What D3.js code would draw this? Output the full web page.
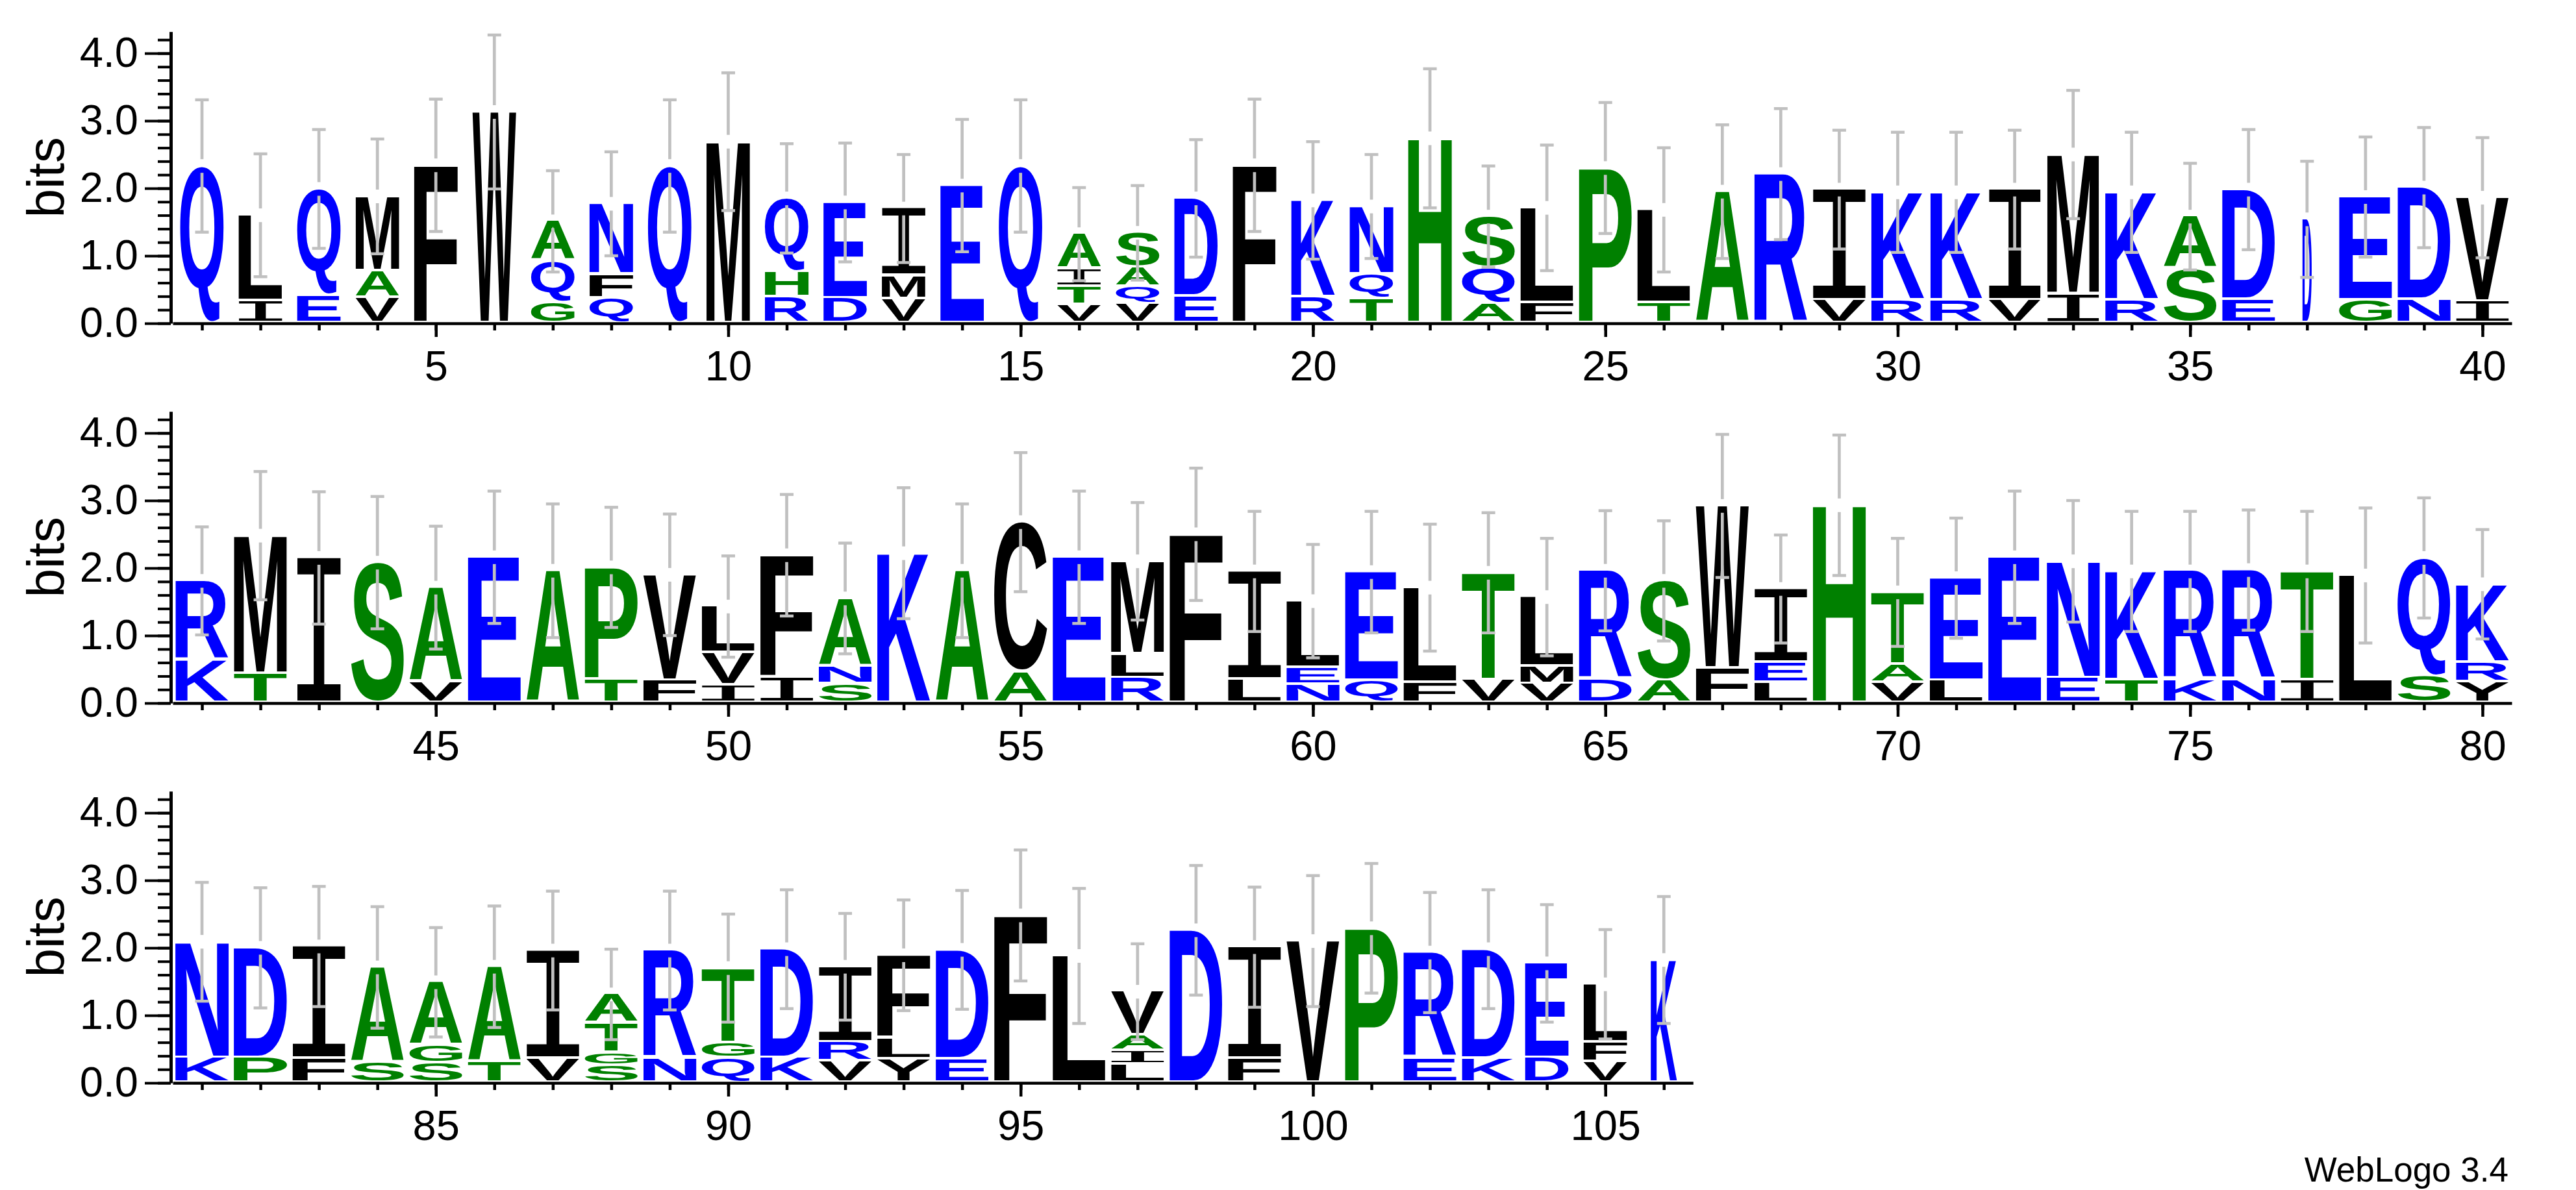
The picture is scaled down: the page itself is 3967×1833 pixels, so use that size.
<!DOCTYPE html>
<html>
<head>
<meta charset="utf-8">
<script src="https://cdn.jsdelivr.net/npm/d3@7"></script>
<style>
  body { margin: 0; background: #fff; }
  svg { display: block; }
</style>
</head>
<body>
<svg id="drawspace" width="3967" height="1833"></svg>
<script>
// letters of each stack, bottom to top
const stackLetters = [
  "Q", "IL", "EQ", "VAM", "F", "W", "GQA", "QFN", "Q", "M",
  "RHQ", "DE", "VMI", "E", "Q", "VTIA", "VQAS", "ED", "F", "RK",
  "TQN", "H", "AQS", "FL", "P", "TL", "A", "R", "VI", "RK",
  "RK", "VI", "IM", "RK", "SA", "ED", "D", "GE", "ND", "IV",
  "KR", "TM", "I", "S", "VA", "E", "A", "TP", "FV", "IVL",
  "IF", "SNA", "K", "A", "AC", "E", "RLM", "F", "LI", "NEL",
  "QE", "FL", "VT", "VML", "DR", "AS", "FW", "LEI", "H", "VAT",
  "LE", "E", "EN", "TK", "KR", "NR", "IT", "L", "SQ", "YRK",
  "KN", "PD", "FI", "SA", "SGA", "TA", "VI", "SGTA", "NR", "QGT",
  "KD", "VRI", "YLF", "ED", "F", "L", "LIAV", "D", "FI", "V",
  "P", "ER", "KD", "DE", "VFL", "K"
];

// bits of each letter, same order
const stackBits = [
  [2.33], [0.33, 1.27], [0.41, 1.58], [0.37, 0.40, 1.11], [2.34], [3.13], [0.30, 0.62, 0.59], [0.37, 0.35, 1.05], [2.33], [2.69],
  [0.38, 0.37, 1.10], [0.37, 1.42], [0.36, 0.34, 1.00], [2.04], [2.33], [0.27, 0.27, 0.26, 0.52], [0.28, 0.26, 0.28, 0.52], [0.39, 1.46], [2.34], [0.38, 1.44],
  [0.36, 0.36, 1.01], [2.74], [0.28, 0.54, 0.76], [0.30, 1.41], [2.30], [0.30, 1.38], [1.95], [2.21], [0.34, 1.64], [0.34, 1.60],
  [0.34, 1.60], [0.34, 1.64], [0.43, 2.07], [0.34, 1.60], [0.80, 0.78], [0.35, 1.63], [1.54], [0.34, 1.53], [0.35, 1.66], [0.32, 1.54],
  [0.63, 1.18], [0.43, 2.05], [2.15], [2.08], [0.31, 1.40], [2.16], [1.96], [0.35, 1.66], [0.33, 1.57], [0.26, 0.48, 0.69],
  [0.38, 1.81], [0.28, 0.26, 1.01], [2.22], [1.96], [0.46, 2.22], [2.16], [0.37, 0.35, 1.38], [2.50], [0.35, 1.60], [0.27, 0.25, 0.99],
  [0.33, 1.61], [0.30, 1.41], [0.34, 1.59], [0.28, 0.26, 1.03], [0.34, 1.62], [0.33, 1.48], [0.51, 2.41], [0.30, 0.30, 1.09], [2.93], [0.30, 0.27, 1.07],
  [0.33, 1.52], [2.16], [0.37, 1.73], [0.34, 1.61], [0.34, 1.61], [0.34, 1.63], [0.34, 1.61], [1.89], [0.39, 1.76], [0.31, 0.29, 1.16],
  [0.37, 1.72], [0.37, 1.63], [0.36, 1.66], [0.30, 1.41], [0.29, 0.26, 0.94], [0.31, 1.41], [0.36, 1.60], [0.25, 0.19, 0.44, 0.43], [0.36, 1.60], [0.36, 0.23, 1.11],
  [0.37, 1.61], [0.32, 0.28, 1.12], [0.35, 0.31, 1.23], [0.35, 1.62], [2.48], [1.88], [0.27, 0.20, 0.23, 0.65], [2.26], [0.36, 1.65], [2.10],
  [2.29], [0.36, 1.57], [0.36, 1.62], [0.37, 1.40], [0.31, 0.29, 0.86], [1.82]
];

// half length of each error bar, bits
const errorBits = [
  0.98, 0.91, 0.88, 0.85, 0.98, 1.14, 0.75, 0.77, 0.98, 1.02,
  0.81, 0.88, 0.80, 0.98, 0.98, 0.69, 0.70, 0.87, 0.98, 0.87,
  0.77, 1.03, 0.75, 0.93, 0.97, 0.92, 0.99, 0.97, 0.88, 0.89,
  0.89, 0.88, 0.95, 0.89, 0.79, 0.89, 0.86, 0.89, 0.89, 0.89,
  0.80, 0.95, 0.98, 0.98, 0.91, 0.98, 0.99, 0.89, 0.90, 0.75,
  0.90, 0.82, 0.97, 0.99, 1.03, 0.98, 0.87, 0.98, 0.89, 0.84,
  0.90, 0.94, 0.89, 0.87, 0.89, 0.89, 1.06, 0.80, 1.04, 0.80,
  0.89, 0.98, 0.90, 0.89, 0.89, 0.89, 0.89, 1.00, 0.89, 0.81,
  0.88, 0.89, 0.89, 0.90, 0.81, 0.90, 0.88, 0.67, 0.88, 0.80,
  0.88, 0.79, 0.82, 0.88, 0.97, 1.00, 0.71, 0.96, 0.89, 0.97,
  0.96, 0.89, 0.88, 0.87, 0.81, 0.94
];

// fraction of non-gap sequences (stack width)
const stackWidth = [
  0.80, 0.80, 0.80, 0.80, 0.80, 0.80, 0.80, 0.80, 0.80, 0.80,
  0.80, 0.80, 0.80, 0.80, 0.80, 0.80, 0.80, 0.80, 0.80, 0.80,
  0.80, 0.80, 0.97, 0.97, 0.97, 0.97, 0.97, 0.97, 0.97, 0.97,
  0.95, 0.95, 0.95, 0.97, 0.97, 0.97, 0.17, 0.97, 0.97, 0.97,
  0.97, 0.97, 0.80, 0.97, 0.97, 0.97, 0.97, 0.97, 0.97, 0.97,
  0.97, 0.97, 0.97, 0.97, 0.97, 0.97, 0.97, 0.97, 0.97, 0.97,
  0.97, 0.97, 0.97, 0.97, 0.97, 0.97, 0.97, 0.97, 0.97, 0.97,
  0.97, 0.97, 0.97, 0.97, 0.97, 0.97, 0.97, 0.97, 0.97, 0.97,
  0.98, 0.98, 0.97, 0.97, 0.97, 0.97, 0.97, 0.97, 0.97, 0.97,
  0.97, 0.97, 0.97, 0.97, 0.97, 0.97, 0.97, 0.97, 0.97, 0.97,
  0.97, 0.97, 0.97, 0.80, 0.80, 0.48
];

const hydrophilic = "RKDENQ";
const neutral = "SGHTAP";
const hydrophobic = "YVMCLFIW";

const rowStarts = [1, 41, 81];
const rowLengths = [40, 40, 26];
const yTickLabels = ["0.0", "1.0", "2.0", "3.0", "4.0"];
const maxBits = 4.32;

let drawspace = d3.select("#drawspace");

const colW = 90.05;
const bitH = 104;
const fullW = 84;

function letterColor(ch) {
  if (hydrophilic.includes(ch)) return "#0000ff";
  if (neutral.includes(ch)) return "#008000";
  return "#000000";
}

// ink box of a glyph, measured once
const canvas = document.createElement("canvas");
const ctx = canvas.getContext("2d");
const glyphs = {};
function glyph(ch) {
  if (glyphs[ch]) return glyphs[ch];
  // serif I, as WebLogo draws it
  const family = ch === "I" ? "DejaVu Sans Mono" : "Liberation Sans";
  const weight = ch === "I" ? "normal" : "bold";
  ctx.font = weight + ' 200px "' + family + '"';
  const m = ctx.measureText(ch);
  glyphs[ch] = {
    family: family,
    weight: weight,
    left: m.actualBoundingBoxLeft,
    right: m.actualBoundingBoxRight,
    ascent: m.actualBoundingBoxAscent,
    descent: m.actualBoundingBoxDescent
  };
  return glyphs[ch];
}

rowStarts.forEach((start, r) => {
  const end = start + rowLengths[r] - 1;
  const y0 = 498 + r * 585;

  var xScale = d3
    .scaleLinear()
    .domain([start - 0.5, end + 0.5])
    .range([266, 266 + rowLengths[r] * colW]);

  var yScale = d3
    .scaleLinear()
    .domain([0, maxBits])
    .range([y0, y0 - maxBits * bitH]);

  var g = drawspace.append("g");

  // y axis
  var yMinor = g
    .append("g")
    .attr("transform", "translate(263,0)")
    .call(
      d3.axisLeft(yScale)
        .tickValues(d3.range(0, 4.3, 0.2))
        .tickSize(20)
        .tickSizeOuter(0)
        .tickFormat("")
    );
  yMinor.select(".domain").attr("stroke-width", 5);
  yMinor.selectAll(".tick line").attr("stroke-width", 4);

  var yMajor = g
    .append("g")
    .attr("transform", "translate(263,0)")
    .call(
      d3.axisLeft(yScale)
        .tickValues([0, 1, 2, 3, 4])
        .tickSize(40)
        .tickSizeOuter(0)
        .tickPadding(10)
        .tickFormat((d, i) => yTickLabels[i])
    );
  yMajor.select(".domain").remove();
  yMajor.selectAll(".tick line").attr("stroke-width", 4);
  yMajor
    .selectAll("text")
    .attr("font-family", "Liberation Sans, Arial, sans-serif")
    .attr("font-size", 65);

  // x axis
  var xMinor = g
    .append("g")
    .attr("transform", "translate(0," + y0 + ")")
    .call(
      d3.axisBottom(xScale)
        .tickValues(d3.range(start, end + 1))
        .tickSize(11)
        .tickSizeOuter(0)
        .tickFormat("")
    );
  xMinor.select(".domain").attr("stroke-width", 4.5);
  xMinor.selectAll(".tick line").attr("stroke-width", 4.5);

  var xMajor = g
    .append("g")
    .attr("transform", "translate(0," + y0 + ")")
    .call(
      d3.axisBottom(xScale)
        .tickValues(d3.range(start, end + 1).filter((p) => p % 5 === 0))
        .tickSize(21)
        .tickSizeOuter(0)
        .tickPadding(21)
        .tickFormat(d3.format("d"))
    );
  xMajor.select(".domain").remove();
  xMajor.selectAll(".tick line").attr("stroke-width", 4.5);
  xMajor
    .selectAll("text")
    .attr("font-family", "Liberation Sans, Arial, sans-serif")
    .attr("font-size", 65);

  g.append("text")
    .attr("transform", "translate(98," + yScale(maxBits / 2) + ") rotate(-90)")
    .attr("text-anchor", "middle")
    .attr("font-family", "Liberation Sans, Arial, sans-serif")
    .attr("font-size", 80)
    .text("bits");

  // letters
  var letters = [];
  var bars = [];
  for (let p = start; p <= end; p++) {
    const i = p - 1;
    let cum = 0;
    stackLetters[i].split("").forEach((ch, k) => {
      letters.push({ pos: p, ch: ch, lo: cum, hi: cum + stackBits[i][k], w: stackWidth[i] });
      cum += stackBits[i][k];
    });
    bars.push({ pos: p, top: cum, err: errorBits[i] });
  }

  g.selectAll(".letter")
    .data(letters)
    .enter()
    .append("text")
    .attr("class", "letter")
    .attr("font-family", (d) => glyph(d.ch).family)
    .attr("font-weight", (d) => glyph(d.ch).weight)
    .attr("font-size", 200)
    .attr("fill", (d) => letterColor(d.ch))
    .attr("transform", (d) => {
      const m = glyph(d.ch);
      const w = fullW * d.w;
      const top = yScale(d.hi);
      const bot = yScale(d.lo) - 4;
      const sx = w / (m.left + m.right);
      const sy = (bot - top) / (m.ascent + m.descent);
      return "translate(" + (xScale(d.pos) - w / 2) + "," + top + ") scale(" + sx + "," + sy + ") translate(" + m.left + "," + m.ascent + ")";
    })
    .text((d) => d.ch);

  // error bars, split round the stack top
  var eb = g.selectAll(".errbar").data(bars).enter().append("g").attr("class", "errbar")
    .attr("stroke", "#c0c0c0");
  eb.append("line")
    .attr("x1", (d) => xScale(d.pos)).attr("x2", (d) => xScale(d.pos))
    .attr("y1", (d) => yScale(d.top + d.err)).attr("y2", (d) => yScale(d.top) - 10.5)
    .attr("stroke-width", 4.7);
  eb.append("line")
    .attr("x1", (d) => xScale(d.pos)).attr("x2", (d) => xScale(d.pos))
    .attr("y1", (d) => yScale(d.top) + 10.5).attr("y2", (d) => yScale(d.top - d.err))
    .attr("stroke-width", 4.7);
  eb.append("line")
    .attr("x1", (d) => xScale(d.pos) - 10.5).attr("x2", (d) => xScale(d.pos) + 10.5)
    .attr("y1", (d) => yScale(d.top + d.err)).attr("y2", (d) => yScale(d.top + d.err))
    .attr("stroke-width", 4.5);
  eb.append("line")
    .attr("x1", (d) => xScale(d.pos) - 10.5).attr("x2", (d) => xScale(d.pos) + 10.5)
    .attr("y1", (d) => yScale(d.top - d.err)).attr("y2", (d) => yScale(d.top - d.err))
    .attr("stroke-width", 4.5);
});

drawspace
  .append("text")
  .attr("x", 3863)
  .attr("y", 1820)
  .attr("text-anchor", "end")
  .attr("font-family", "Liberation Sans, Arial, sans-serif")
  .attr("font-size", 53)
  .text("WebLogo 3.4");
</script>
</body>
</html>
